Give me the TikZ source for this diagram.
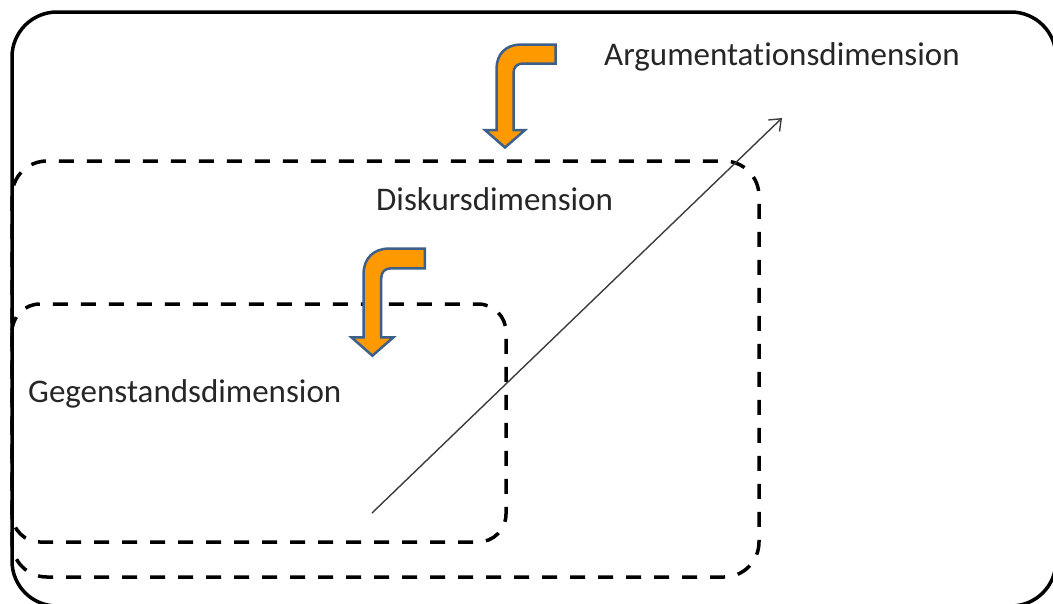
\documentclass[tikz,border=0pt]{standalone}
\usepackage{fontspec}
\setmainfont[Ligatures=NoCommon]{Carlito}
\usetikzlibrary{arrows.meta}
\definecolor{arroworange}{RGB}{255,153,0}
\definecolor{arrowblue}{RGB}{60,95,140}
\definecolor{txt}{RGB}{38,38,38}
\definecolor{linegrey}{RGB}{60,60,60}
\tikzset{
  frame/.style={draw=black, line width=3.5pt},
  dashframe/.style={draw=black, line width=3.5pt, dash pattern=on 15pt off 13pt},
  thinarrow/.style={draw=linegrey, line width=1.4pt, -{Straight Barb[length=10pt,width=16pt,line width=1.4pt]}},
  label/.style={anchor=base west, inner sep=0pt, text=txt, font=\fontsize{33}{39}\selectfont},
  bentarrow/.pic={
    \path[fill=arroworange, draw=arrowblue, line width=2.5pt, line join=miter]
      (60.5,1.5) -- (26,1.5) .. controls (11,1.5) and (1.5,11) .. (1.5,26)
      -- (1.5,87) -- (-10,87) -- (10,104.5) -- (30,87) -- (18.5,87)
      -- (18.5,30) .. controls (18.5,24) and (22,20.5) .. (28,20.5)
      -- (60.5,20.5) -- cycle;
  }
}
\begin{document}
\begin{tikzpicture}[x=1pt,y=-1pt]
  \useasboundingbox (0,0) rectangle (1053,603);
  % outer frame
  \draw[frame, rounded corners=45pt] (12,12) rectangle (1056,606);
  % middle dashed frame
  \draw[dashframe, rounded corners=35pt] (12,161) rectangle (759,577);
  % inner dashed frame
  \draw[dashframe, rounded corners=28pt] (12,304) rectangle (506,542);
  % long arrow
  \coordinate (s) at (372,513);
  \coordinate (e) at (782,118);
  \draw[thinarrow] (s) -- (e);
  % bent arrows
  \pic (b1) at (495,43) {bentarrow};
  \pic[scale=1.04] (b2) at (362,247) {bentarrow};
  % labels
  \node[label] (arg) at (604,65) {Argumentationsdimension};
  \node[label] (dis) at (376,210) {Diskursdimension};
  \node[label] (geg) at (28,402) {Gegenstandsdimension};
\end{tikzpicture}
\end{document}
